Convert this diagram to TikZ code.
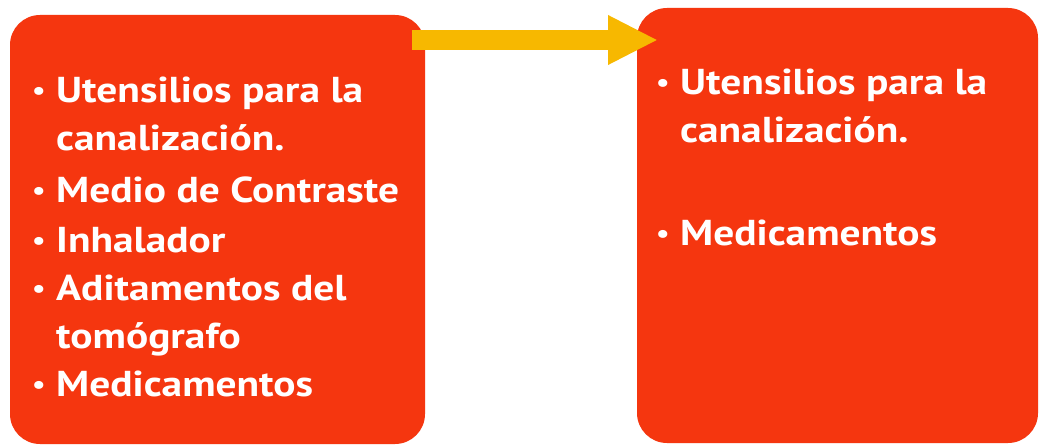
\documentclass[tikz,border=0pt]{standalone}
\usepackage{fontspec}
\setmainfont{PT Sans}
\newfontfamily\itemfont[FakeStretch=1.15]{PT Sans}
\usetikzlibrary{arrows.meta}
\definecolor{boxred}{HTML}{F5360F}
\definecolor{arrowyel}{HTML}{F7B800}
\tikzset{
  panel/.style={fill=boxred, draw=none, rounded corners=30pt},
  item/.style={anchor=base west, inner sep=0pt, text=white, font=\itemfont\bfseries\fontsize{36}{40}\selectfont},
  dot/.style={anchor=base west, inner sep=0pt, text=white, font=\itemfont\bfseries\fontsize{26}{30}\selectfont},
  link/.style={draw=arrowyel, line width=20pt, -{Triangle[length=50pt,width=46pt]}}
}
\begin{document}
\begin{tikzpicture}[x=1pt,y=-1pt]
\useasboundingbox (0,0) rectangle (1040,446);
\fill[white] (0,0) rectangle (1040,446);
\path[panel] (10,15) rectangle (425,444);
\path[panel] (637,8) rectangle (1038,443);
% left items
\node[dot] (l1b) at (32,100) {•};
\node[item] (l1) at (56,103) {Utensilios para la};
\node[item] (l2) at (56,151) {canalización.};
\node[dot] (l3b) at (32,200) {•};
\node[item] (l3) at (56,203) {Medio de Contraste};
\node[dot] (l4b) at (32,249) {•};
\node[item] (l4) at (56,252) {Inhalador};
\node[dot] (l5b) at (32,297) {•};
\node[item] (l5) at (56,300) {Aditamentos del};
\node[item] (l6) at (56,348) {tomógrafo};
\node[dot] (l7b) at (32,393) {•};
\node[item] (l7) at (56,396) {Medicamentos};
% right items
\node[dot] (r1b) at (656,92) {•};
\node[item] (r1) at (680,95) {Utensilios para la};
\node[item] (r2) at (680,143) {canalización.};
\node[dot] (r3b) at (656,242) {•};
\node[item] (r3) at (680,245) {Medicamentos};
% arrow
\coordinate (a1) at (412,40);
\coordinate (a2) at (658,40);
\draw[link] (a1) -- (a2);
\end{tikzpicture}
\end{document}
